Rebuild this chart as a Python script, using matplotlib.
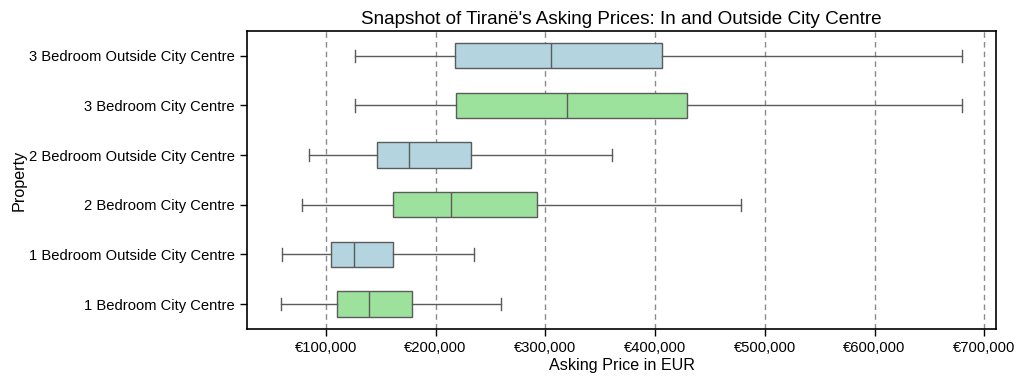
import matplotlib
matplotlib.use("Agg")
import matplotlib.pyplot as plt
from matplotlib.ticker import FuncFormatter

categories = [
    "3 Bedroom Outside City Centre",
    "3 Bedroom City Centre",
    "2 Bedroom Outside City Centre",
    "2 Bedroom City Centre",
    "1 Bedroom Outside City Centre",
    "1 Bedroom City Centre",
]
whisker_low = [127000, 127000, 84500, 78500, 60500, 59500]
q1 = [218000, 219000, 146500, 161000, 104500, 110000]
median = [305000, 320000, 175500, 214500, 125500, 139000]
q3 = [406000, 429000, 232000, 292000, 161500, 178500]
whisker_high = [680000, 680000, 360500, 478500, 235000, 259500]
location = ["Outside", "City", "Outside", "City", "Outside", "City"]

colors = {"Outside": "#b4d4df", "City": "#9ce29c"}
edge = "#5b5b5b"

plt.rcParams["font.family"] = ["Liberation Sans", "DejaVu Sans"]

fig = plt.figure(figsize=(10.24, 3.85), dpi=100)
ax = fig.add_axes([0.241, 0.1455, 0.732, 0.774])

stats = []
for i, c in enumerate(categories):
    stats.append(dict(label=c, whislo=whisker_low[i], q1=q1[i], med=median[i],
                      q3=q3[i], whishi=whisker_high[i], fliers=[]))
positions = list(range(len(categories)))
bp = ax.bxp(stats, positions=positions, vert=False, widths=0.51, patch_artist=True,
            showfliers=False, capwidths=0.25,
            boxprops=dict(edgecolor=edge, linewidth=1.0),
            whiskerprops=dict(color=edge, linewidth=1.0),
            capprops=dict(color=edge, linewidth=1.0),
            medianprops=dict(color=edge, linewidth=1.0))
for patch, loc in zip(bp["boxes"], location):
    patch.set_facecolor(colors[loc])

ax.set_ylim(len(categories) - 0.5, -0.5)
ax.set_xlim(28000, 711000)
ax.set_xticks([100000, 200000, 300000, 400000, 500000, 600000, 700000])
ax.xaxis.set_major_formatter(FuncFormatter(lambda v, p: "€{:,.0f}".format(v)))
ax.set_yticks(positions)
ax.set_yticklabels(categories)
ax.tick_params(axis="both", labelsize=10.6, direction="out", length=5, width=1, colors="black")
ax.xaxis.grid(True, linestyle=(0, (4, 3)), color="#8a8a8a", linewidth=1.0)
ax.set_axisbelow(True)
for s in ax.spines.values():
    s.set_linewidth(1.2)
    s.set_color("black")

ax.set_xlabel("Asking Price in EUR", fontsize=11.6, labelpad=2)
ax.set_ylabel("Property", fontsize=11.6, labelpad=2)
ax.set_title("Snapshot of Tiranë's Asking Prices: In and Outside City Centre", fontsize=13.6, pad=5)

fig.savefig("out.png", dpi=100)
